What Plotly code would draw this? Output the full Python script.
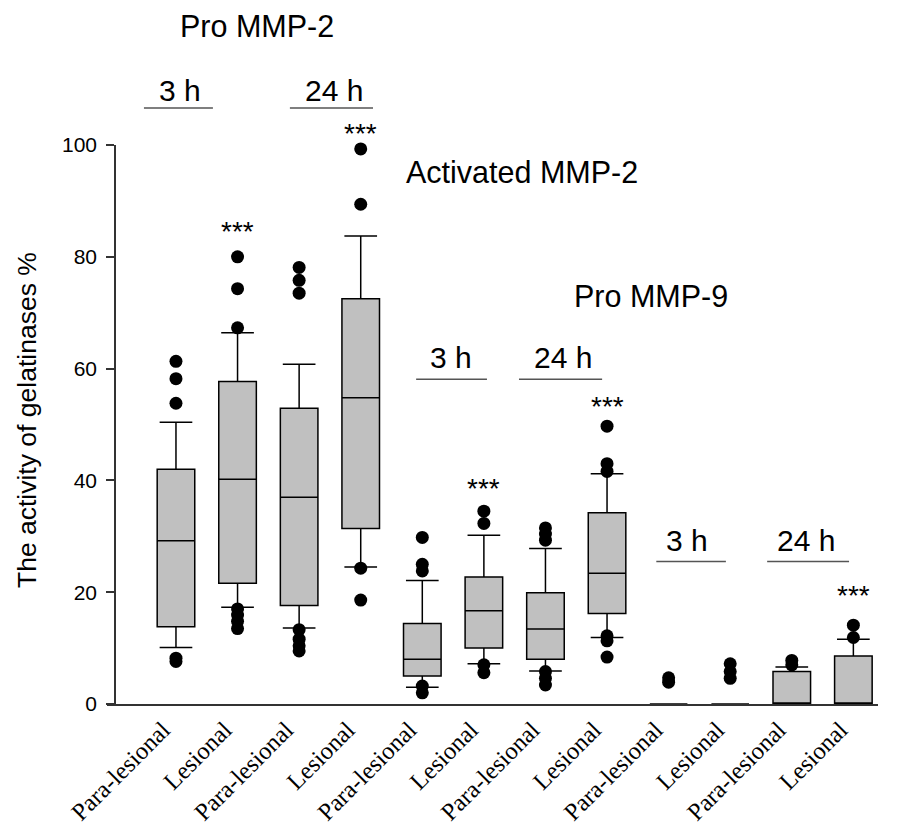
import plotly.graph_objects as go

# ---------------- data ----------------
categories = ["Para-lesional", "Lesional"] * 6
positions = list(range(12))

q1 = [13.8, 21.6, 17.6, 31.4, 5.0, 10.0, 8.0, 16.2, 0.0, 0.0, 0.0, 0.0]
median = [29.2, 40.2, 37.0, 54.8, 8.0, 16.7, 13.4, 23.4, 0.0, 0.0, 0.0, 0.0]
q3 = [42.0, 57.7, 52.9, 72.5, 14.4, 22.7, 19.9, 34.2, 0.0, 0.0, 5.8, 8.6]
lower_whisker = [10.1, 17.3, 13.6, 24.5, 3.0, 7.2, 5.9, 11.9, 0.0, 0.0, 0.0, 0.0]
upper_whisker = [50.4, 66.4, 60.8, 83.7, 22.1, 30.2, 27.8, 41.2, 0.0, 0.0, 6.6, 11.6]

outliers = [
    [61.3, 58.2, 53.8, 8.2, 7.6],
    [80.0, 74.3, 67.3, 17.0, 15.9, 14.8, 13.5],
    [78.1, 75.8, 73.5, 13.3, 11.6, 10.4, 9.5],
    [99.3, 89.4, 24.3, 18.6],
    [29.8, 25.0, 23.8, 3.2, 2.0],
    [34.5, 32.3, 7.0, 5.6],
    [31.5, 30.4, 29.3, 5.8, 4.6, 3.4],
    [49.7, 43.0, 41.6, 12.2, 11.3, 8.4],
    [4.7, 3.9],
    [7.2, 5.8, 4.6],
    [7.8, 7.0],
    [14.1, 11.9],
]

significant = [False, True, False, True, False, True, False, True, False, False, False, True]

# ---------------- figure ----------------
X_MIN, X_MAX = -1.12, 11.4

def px(i):
    return (i - X_MIN) / (X_MAX - X_MIN)

def py(v):
    return v / 100.0

fig = go.Figure()

fig.add_trace(go.Box(
    x=positions,
    q1=q1, median=median, q3=q3,
    lowerfence=lower_whisker, upperfence=upper_whisker,
    boxpoints=False,
    width=0.61,
    whiskerwidth=0.87,
    fillcolor="#c0c0c0",
    line=dict(color="black", width=1.5),
    showlegend=False,
    hoverinfo="skip",
))

ox, oy = [], []
for p, vals in zip(positions, outliers):
    for v in vals:
        ox.append(p)
        oy.append(v)

fig.add_trace(go.Scatter(
    x=ox, y=oy, mode="markers",
    marker=dict(color="black", size=13, line=dict(width=0)),
    cliponaxis=False, showlegend=False, hoverinfo="skip",
))

sans = "Liberation Sans, Arial, sans-serif"
annotations = []
shapes = []

# significance stars (placed above the whisker / outliers)
star_y = {1: 84.6, 3: 102.0, 5: 38.6, 7: 53.2, 11: 19.4}
for p, sig in zip(positions, significant):
    if sig:
        annotations.append(dict(x=px(p), y=py(star_y[p]), xref="paper", yref="paper",
                                text="***", showarrow=False, xanchor="center", yanchor="middle",
                                font=dict(family=sans, size=28, color="black")))

# group titles
titles = [("Pro MMP-2", 1.32, 121.3), ("Activated MMP-2", 5.62, 95.2), ("Pro MMP-9", 7.71, 73.0)]
for t, x, y in titles:
    annotations.append(dict(x=px(x), y=py(y), xref="paper", yref="paper", text=t,
                            showarrow=False, xanchor="center", yanchor="middle",
                            font=dict(family=sans, size=30.5, color="black")))

# time labels with lines
times = [
    ("3 h", 0.07, 109.7, -0.52, 0.60, 106.6),
    ("24 h", 2.56, 109.7, 1.85, 3.20, 106.6),
    ("3 h", 4.46, 61.9, 3.90, 5.05, 58.1),
    ("24 h", 6.28, 61.9, 5.57, 6.92, 58.1),
    ("3 h", 8.30, 29.3, 7.80, 8.93, 25.5),
    ("24 h", 10.23, 29.3, 9.60, 10.93, 25.5),
]
for t, x, y, x0, x1, yl in times:
    annotations.append(dict(x=px(x), y=py(y), xref="paper", yref="paper", text=t,
                            showarrow=False, xanchor="center", yanchor="middle",
                            font=dict(family=sans, size=30, color="black")))
    shapes.append(dict(type="line", xref="paper", yref="paper",
                       x0=px(x0), x1=px(x1), y0=py(yl), y1=py(yl),
                       line=dict(color="#555555", width=1.5)))

# y-axis title
annotations.append(dict(x=(27 - 107) / 771, y=py(50.8), xref="paper", yref="paper",
                        text="The activity of gelatinases %", textangle=-90,
                        showarrow=False, xanchor="center", yanchor="middle",
                        font=dict(family=sans, size=26.5, color="black")))

fig.update_layout(
    width=898, height=830,
    margin=dict(l=99, r=28, t=137, b=134, autoexpand=False),
    paper_bgcolor="white", plot_bgcolor="white",
    showlegend=False,
    annotations=annotations,
    shapes=shapes,
    xaxis=dict(
        range=[X_MIN, X_MAX],
        tickmode="array", tickvals=positions, ticktext=categories,
        tickangle=-45,
        ticklabelshift=-13, ticklabelstandoff=0,
        tickfont=dict(family="Liberation Serif, Times New Roman, serif", size=24.5, color="black"),
        showline=True, linecolor="#333333", linewidth=1.5,
        ticks="", showgrid=False, zeroline=False,
    ),
    yaxis=dict(
        range=[0, 100],
        anchor="free", position=(115 - 107) / 771,
        tickmode="array", tickvals=[0, 20, 40, 60, 80, 100],
        ticks="outside", ticklen=8, tickwidth=1.5, tickcolor="#333333",
        ticklabelstandoff=5,
        tickfont=dict(family=sans, size=21, color="black"),
        showline=True, linecolor="#333333", linewidth=1.5,
        showgrid=False, zeroline=False,
    ),
)

fig.write_html("out.html")
